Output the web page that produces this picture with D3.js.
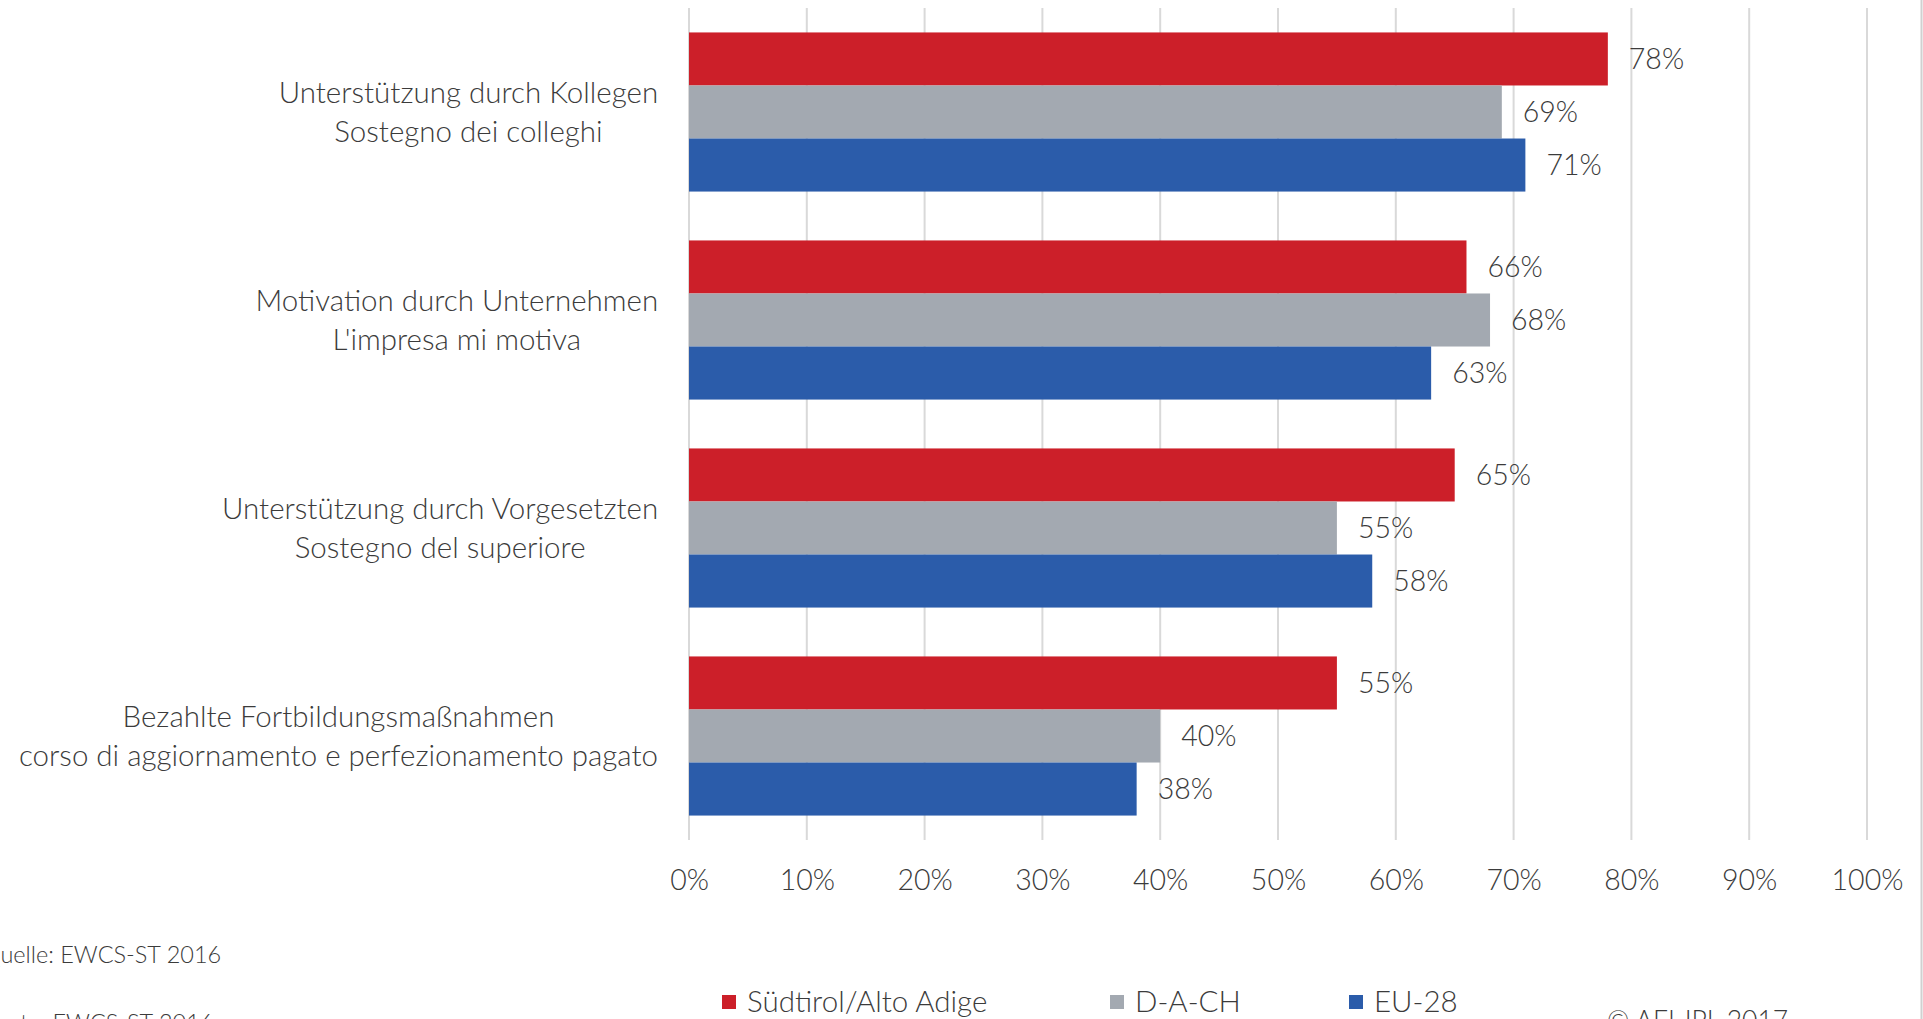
<!DOCTYPE html>
<html>
<head>
<meta charset="utf-8">
<script src="https://cdn.jsdelivr.net/npm/d3@7"></script>
<style>
  html, body { margin: 0; padding: 0; background: #fff; overflow: hidden; }
  svg text { font-family: 'Source Sans Pro', Lato, 'Open Sans', sans-serif; font-weight: 300; fill: #3b3b3b; }
</style>
</head>
<body>
<div id="chart"></div>
<script>
'use strict';

// Category labels (German / Italian)
var categories = [
  [ 'Unterstützung durch Kollegen', 'Sostegno dei colleghi' ],
  [ 'Motivation durch Unternehmen', 'L\'impresa mi motiva' ],
  [ 'Unterstützung durch Vorgesetzten', 'Sostegno del superiore' ],
  [ 'Bezahlte Fortbildungsmaßnahmen', 'corso di aggiornamento e perfezionamento pagato' ]
];

var seriesNames = [ 'Südtirol/Alto Adige', 'D-A-CH', 'EU-28' ];
var seriesColors = [ '#cc1f29', '#a3a9b1', '#2b5caa' ];

// Values in percent, one array per series
var suedtirol = [ 78, 66, 65, 55 ];
var dach = [ 69, 68, 55, 40 ];
var eu28 = [ 71, 63, 58, 38 ];

var xTicks = [ 0, 10, 20, 30, 40, 50, 60, 70, 80, 90, 100 ];

var footLines = [ 'Quelle: EWCS-ST 2016', 'Fonte: EWCS-ST 2016' ];
var copyright = '© AFI-IPL 2017';

var width = 1923;
var height = 1019;

var values = [ suedtirol, dach, eu28 ];

var svg = d3.select( '#chart' ).append( 'svg' )
  .attr( 'width', width )
  .attr( 'height', height );

svg.append( 'rect' )
  .attr( 'width', width )
  .attr( 'height', height )
  .attr( 'fill', '#fff' );

// Thin frame line on the right edge
svg.append( 'line' )
  .attr( 'x1', width - 1.5 ).attr( 'x2', width - 1.5 )
  .attr( 'y1', 0 ).attr( 'y2', height )
  .attr( 'stroke', '#d0d0d0' )
  .attr( 'stroke-width', 2 );

var x = d3.scaleLinear().domain( [ 0, 100 ] ).range( [ 689, 1867 ] );

var y = d3.scaleBand()
  .domain( d3.range( categories.length ) )
  .range( [ 8, 840 ] )
  .paddingInner( 0.235 )
  .paddingOuter( 0.1175 );

var ySeries = d3.scaleBand()
  .domain( d3.range( seriesNames.length ) )
  .range( [ 0, y.bandwidth() ] );

// Vertical gridlines
svg.append( 'g' )
  .attr( 'class', 'grid' )
  .selectAll( 'line' )
  .data( xTicks )
  .enter().append( 'line' )
  .attr( 'x1', function( d ) { return x( d ); } )
  .attr( 'x2', function( d ) { return x( d ); } )
  .attr( 'y1', 8 )
  .attr( 'y2', 840 )
  .attr( 'stroke', '#d9d9d9' )
  .attr( 'stroke-width', 2 );

// Tick labels via d3 axis, styled afterwards
var xAxis = d3.axisBottom( x )
  .tickValues( xTicks )
  .tickSize( 0 )
  .tickPadding( 0 )
  .tickFormat( function( d ) { return d + '%'; } );

var axisG = svg.append( 'g' )
  .attr( 'class', 'x axis' )
  .attr( 'transform', 'translate(0,880)' )
  .call( xAxis );
axisG.select( '.domain' ).remove();
axisG.attr( 'font-family', null ).attr( 'font-size', null );
axisG.selectAll( 'text' )
  .attr( 'dy', '0.35em' )
  .attr( 'y', 0 )
  .attr( 'fill', null )
  .style( 'font-size', '28.5px' );

// Bars
var groups = svg.append( 'g' )
  .attr( 'class', 'bars' )
  .selectAll( 'g' )
  .data( categories )
  .enter().append( 'g' )
  .attr( 'transform', function( d, i ) { return 'translate(0,' + y( i ) + ')'; } );

groups.each( function( d, ci ) {
  var g = d3.select( this );
  var rows = values.map( function( arr, si ) { return { s: si, v: arr[ ci ] }; } );

  g.selectAll( 'rect' )
    .data( rows )
    .enter().append( 'rect' )
    .attr( 'x', x( 0 ) )
    .attr( 'y', function( r ) { return ySeries( r.s ); } )
    .attr( 'width', function( r ) { return x( r.v ) - x( 0 ); } )
    .attr( 'height', ySeries.bandwidth() )
    .attr( 'fill', function( r ) { return seriesColors[ r.s ]; } );

  g.selectAll( 'text.value' )
    .data( rows )
    .enter().append( 'text' )
    .attr( 'class', 'value' )
    .attr( 'x', function( r ) { return x( r.v ) + 21; } )
    .attr( 'y', function( r ) { return ySeries( r.s ) + ySeries.bandwidth() / 2; } )
    .attr( 'dy', '0.35em' )
    .style( 'font-size', '28.5px' )
    .text( function( r ) { return r.v + '%'; } );
} );

// Category labels: two centred lines, block right-aligned to the plot
var labels = svg.append( 'g' )
  .attr( 'class', 'cat-labels' )
  .selectAll( 'text' )
  .data( categories )
  .enter().append( 'text' )
  .style( 'font-size', '29.5px' )
  .attr( 'text-anchor', 'middle' );

labels.selectAll( 'tspan' )
  .data( function( d ) { return d; } )
  .enter().append( 'tspan' )
  .attr( 'dy', '0.35em' )
  .text( function( d ) { return d; } );

labels.each( function( d, i ) {
  var t = d3.select( this );
  var maxW = 0;
  t.selectAll( 'tspan' ).each( function() {
    maxW = Math.max( maxW, this.getComputedTextLength() );
  } );
  var cx = 658 - maxW / 2;
  var cy = y( i ) + y.bandwidth() / 2;
  t.selectAll( 'tspan' )
    .attr( 'x', cx )
    .attr( 'y', function( l, li ) { return cy + ( li - 0.5 ) * 39; } );
} );

// Legend
var legendX = [ 722, 1110, 1349 ];
var legend = svg.append( 'g' )
  .attr( 'class', 'legend' )
  .selectAll( 'g' )
  .data( seriesNames )
  .enter().append( 'g' )
  .attr( 'transform', function( d, i ) { return 'translate(' + legendX[ i ] + ',1002)'; } );

legend.append( 'rect' )
  .attr( 'x', 0 )
  .attr( 'y', -7 )
  .attr( 'width', 14 )
  .attr( 'height', 14 )
  .attr( 'fill', function( d, i ) { return seriesColors[ i ]; } );

legend.append( 'text' )
  .attr( 'x', 25 )
  .attr( 'dy', '0.35em' )
  .style( 'font-size', '29.5px' )
  .text( function( d ) { return d; } );

// Source note, partly cut off at the left and bottom edge
svg.append( 'g' )
  .attr( 'class', 'source' )
  .selectAll( 'text' )
  .data( footLines )
  .enter().append( 'text' )
  .attr( 'x', -18 )
  .attr( 'y', function( d, i ) { return 955 + i * 68; } )
  .attr( 'dy', '0.35em' )
  .style( 'font-size', '23.5px' )
  .text( function( d ) { return d; } );

svg.append( 'text' )
  .attr( 'x', 1607 )
  .attr( 'y', 1030 )
  .style( 'font-size', '26.5px' )
  .text( copyright );
</script>
</body>
</html>
